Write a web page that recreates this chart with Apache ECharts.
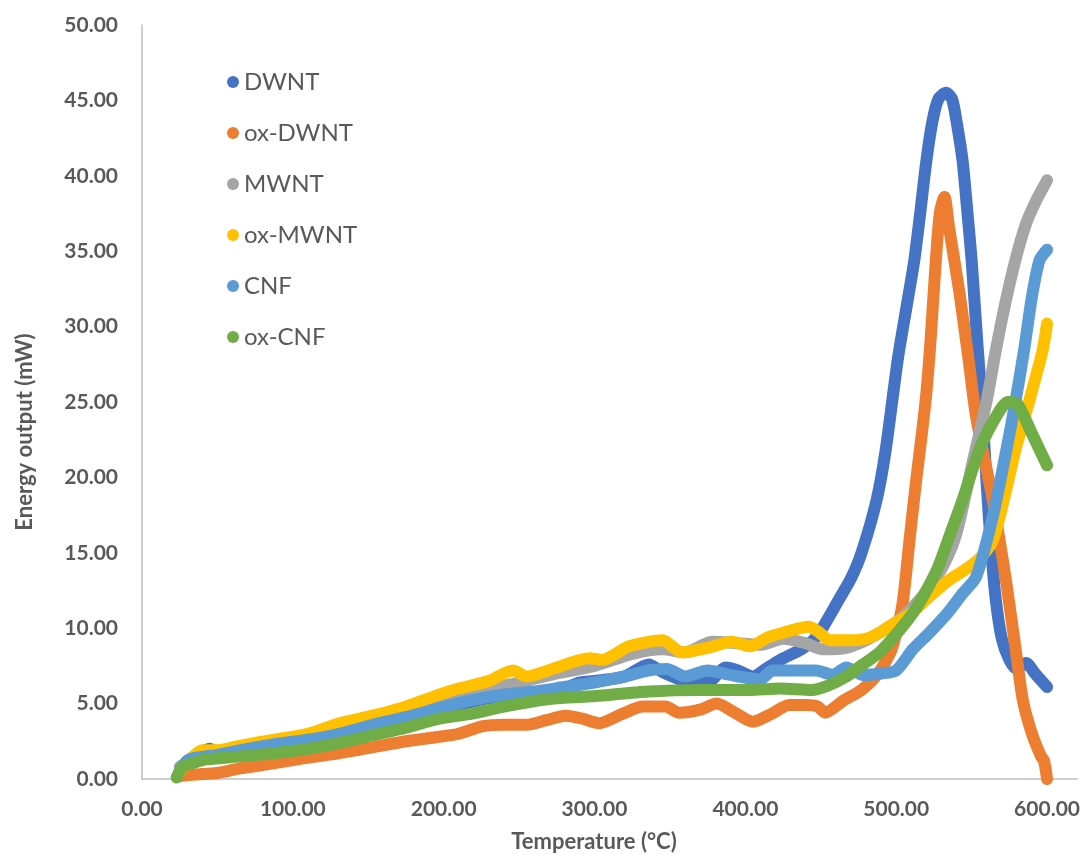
<!DOCTYPE html>
<html>
<head>
<meta charset="utf-8" />
<script src="https://cdn.jsdelivr.net/npm/echarts@6/dist/echarts.min.js"></script>
<style>
  html, body { margin: 0; padding: 0; background: #fff; }
  #chart { width: 1083px; height: 855px; }
</style>
</head>
<body>
<div id="chart"></div>
<script>
// [temperature °C, energy output mW]
const seriesNames = ["DWNT", "ox-DWNT", "MWNT", "ox-MWNT", "CNF", "ox-CNF"];
const colors = ["#4472C4", "#ED7D31", "#A5A5A5", "#FFC000", "#5B9BD5", "#70AD47"];

const dwnt = [
  [25, 0.5], [30, 1.2], [40, 1.8], [45, 2.0], [50, 1.7], [60, 1.9], [80, 2.3], [100, 2.7],
  [125, 3.1], [150, 3.6], [175, 4.1], [200, 4.6], [226, 5.3], [250, 5.5], [270, 5.6],
  [290, 6.4], [300, 6.5], [320, 6.8], [336, 7.6], [345, 7.1], [360, 6.5], [375, 6.4],
  [387, 7.4], [395, 7.2], [405, 6.8], [415, 7.4], [425, 8.0], [437, 8.6], [445, 9.2],
  [451, 10.0], [462, 11.9], [470, 13.3], [477, 15.0], [487, 18.5], [493, 21.8], [501, 27.8],
  [507, 31.4], [512, 34.4], [516, 37.6], [520, 41.0], [524, 43.6], [528, 45.1], [533, 45.5],
  [537, 45.1], [540, 43.6], [544, 41.0], [547, 37.8], [550, 34.4], [554, 28.6], [557, 24.6],
  [560, 19.5], [563, 15.2], [566, 11.9], [570, 9.3], [575, 7.9], [580, 7.3], [586, 7.7],
  [592, 7.0], [600, 6.1],
];

const oxDwnt = [
  [25, 0.2], [35, 0.3], [50, 0.4], [65, 0.7], [85, 1.0], [109, 1.4], [130, 1.7], [153, 2.1],
  [175, 2.5], [197, 2.8], [210, 3.0], [226, 3.5], [240, 3.6], [255, 3.6], [268, 3.9],
  [281, 4.2], [292, 4.0], [303, 3.7], [318, 4.3], [332, 4.8], [347, 4.8], [356, 4.4],
  [370, 4.6], [381, 5.0], [393, 4.4], [405, 3.8], [417, 4.3], [429, 4.9], [440, 4.9],
  [448, 4.8], [453, 4.4], [465, 5.2], [477, 5.9], [488, 7.0], [497, 8.6], [504, 11.5],
  [509, 16.0], [513, 19.6], [517, 22.9], [520, 25.6], [523, 29.4], [526, 34.0], [529, 37.6],
  [532, 38.6], [535, 36.6], [542, 32.2], [548, 27.8], [553, 24.0], [564, 18.5], [573, 13.0],
  [580, 8.0], [584, 5.2], [590, 3.0], [596, 1.5], [598, 1.2], [600, 0],
];

const mwnt = [
  [25, 0.8], [35, 1.4], [50, 1.8], [75, 2.2], [100, 2.7], [125, 3.2], [150, 3.8], [175, 4.6],
  [200, 5.3], [225, 5.9], [250, 6.4], [275, 7.0], [300, 7.5], [325, 8.3], [345, 8.6],
  [360, 8.4], [378, 9.1], [395, 9.0], [410, 8.9], [425, 9.3], [440, 9.0], [451, 8.6],
  [467, 8.7], [480, 9.2], [489, 9.7], [500, 10.4], [511, 11.4], [522, 12.7], [532, 14.3],
  [540, 16.3], [550, 20.7], [560, 25.1], [566, 28.4], [572, 31.4], [579, 34.4], [586, 36.8],
  [593, 38.4], [600, 39.7],
];

const oxMwnt = [
  [25, 0.5], [32, 1.3], [40, 1.9], [50, 1.9], [65, 2.2], [87, 2.6], [110, 3.0], [131, 3.7],
  [153, 4.2], [175, 4.8], [197, 5.6], [210, 6.0], [230, 6.5], [246, 7.2], [255, 6.8],
  [275, 7.4], [297, 8.0], [305, 7.9], [323, 8.8], [345, 9.2], [358, 8.4], [375, 8.7],
  [391, 9.1], [403, 8.8], [415, 9.4], [425, 9.7], [442, 10.1], [448, 9.8], [456, 9.2],
  [470, 9.2], [480, 9.3], [489, 9.7], [495, 10.1], [510, 11.0], [522, 12.1], [535, 13.2],
  [546, 13.9], [555, 14.6], [564, 15.8], [572, 18.8], [579, 21.8], [588, 25.0], [597, 28.4],
  [600, 30.2],
];

const cnf = [
  [25, 0.6], [32, 1.3], [50, 1.6], [70, 2.0], [87, 2.3], [110, 2.6], [131, 3.0], [153, 3.6],
  [175, 4.1], [197, 4.7], [217, 5.2], [240, 5.6], [260, 5.8], [280, 6.1], [300, 6.4],
  [320, 6.8], [336, 7.2], [348, 7.3], [360, 6.8], [375, 7.2], [390, 6.9], [410, 6.6],
  [418, 7.2], [435, 7.2], [447, 7.2], [458, 6.9], [467, 7.4], [478, 6.9], [490, 7.0],
  [500, 7.2], [511, 8.6], [522, 9.7], [534, 11.0], [544, 12.3], [553, 13.4], [564, 17.4],
  [573, 21.8], [579, 25.0], [585, 28.6], [590, 32.0], [595, 34.4], [600, 35.1],
];

const oxCnf = [
  [23, 0.1], [27, 0.8], [35, 1.1], [43, 1.3], [65, 1.5], [87, 1.7], [110, 2.0], [131, 2.4],
  [153, 2.9], [175, 3.4], [197, 4.0], [217, 4.3], [240, 4.8], [270, 5.3], [300, 5.5],
  [336, 5.8], [370, 5.9], [403, 5.9], [423, 6.0], [444, 5.9], [455, 6.2], [467, 6.8],
  [478, 7.6], [489, 8.4], [500, 9.6], [511, 11.0], [520, 12.5], [528, 14.1], [536, 16.3],
  [544, 18.5], [555, 21.8], [566, 24.0], [574, 25.0], [580, 24.9], [585, 24.0], [590, 22.9],
  [600, 20.8],
];

const allData = [dwnt, oxDwnt, mwnt, oxMwnt, cnf, oxCnf];

const labelFont = "Lato, 'Open Sans', sans-serif";
const axisColor = "#BFBFBF";
const textColor = "#595959";

const chart = echarts.init(document.getElementById("chart"), null, { renderer: "canvas" });

const option = {
  backgroundColor: "#fff",
  animation: false,
  grid: {
    left: 142,
    right: 5,
    top: 25,
    bottom: 76,
  },
  legend: {
    orient: "vertical",
    left: 222,
    top: 65,
    itemGap: 27,
    itemWidth: 12,
    itemHeight: 12,
    icon: "circle",
    data: seriesNames,
    textStyle: {
      fontFamily: labelFont,
      fontSize: 24,
      color: textColor,
    },
  },
  xAxis: {
    type: "value",
    min: 0,
    max: 620,
    interval: 100,
    splitLine: { show: false },
    axisTick: { show: false },
    axisLine: { show: true, lineStyle: { color: axisColor, width: 1.5 } },
    axisLabel: {
      margin: 20,
      fontFamily: labelFont,
      fontSize: 21,
      fontWeight: "bold",
      color: textColor,
      showMaxLabel: false,
      formatter: (v) => (v % 100 === 0 ? v.toFixed(2) : ""),
    },
  },
  yAxis: {
    type: "value",
    min: 0,
    max: 50,
    interval: 5,
    splitLine: { show: false },
    axisTick: { show: false },
    axisLine: { show: true, lineStyle: { color: axisColor, width: 1.5 } },
    axisLabel: {
      margin: 24,
      fontFamily: labelFont,
      fontSize: 21,
      fontWeight: "bold",
      color: textColor,
      formatter: (v) => v.toFixed(2),
    },
  },
  graphic: [
    {
      type: "text",
      x: 25,
      y: 432,
      rotation: Math.PI / 2,
      style: {
        text: "Energy output (mW)",
        font: "bold 22px " + labelFont,
        fill: textColor,
        textAlign: "center",
        textVerticalAlign: "middle",
      },
    },
    {
      type: "text",
      x: 594,
      y: 842,
      style: {
        text: "Temperature (°C)",
        font: "bold 22px " + labelFont,
        fill: textColor,
        textAlign: "center",
        textVerticalAlign: "middle",
      },
    },
  ],
  series: seriesNames.map((name, i) => ({
    name,
    type: "line",
    data: allData[i],
    showSymbol: false,
    symbol: "circle",
    smooth: 0.25,
    color: colors[i],
    lineStyle: {
      width: 12,
      color: colors[i],
      cap: "round",
      join: "round",
    },
  })),
};

chart.setOption(option);
</script>
</body>
</html>
